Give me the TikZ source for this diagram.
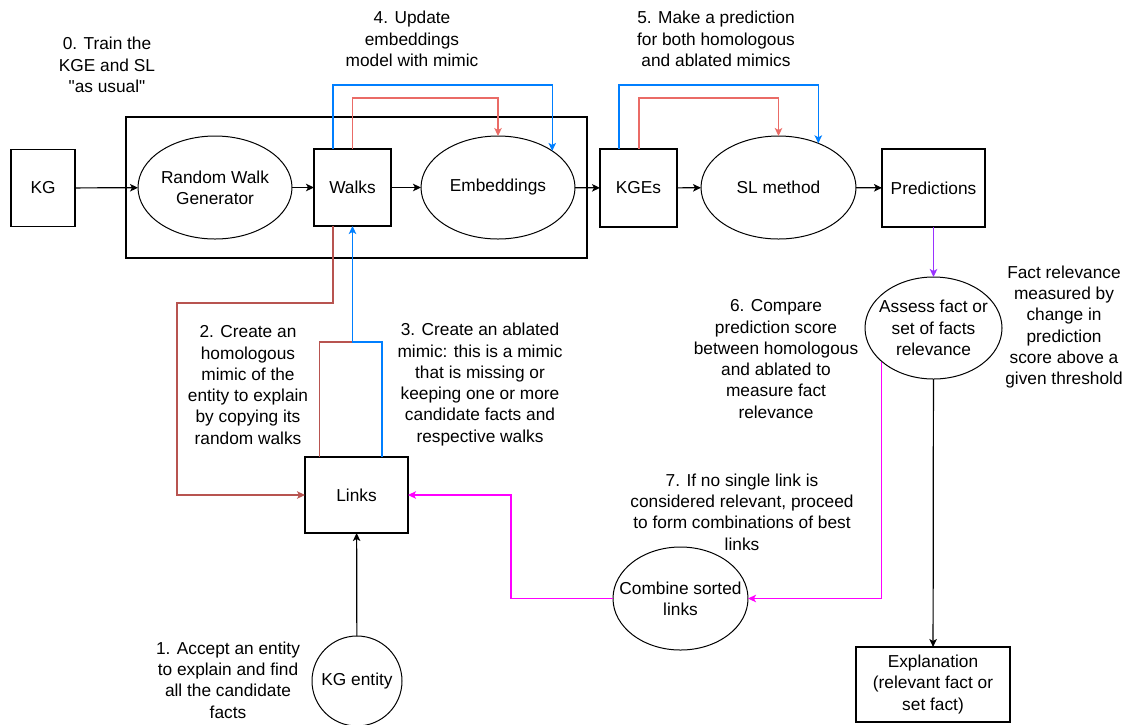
\documentclass[tikz,border=0pt]{standalone}
\usepackage{fontspec}
\setmainfont{Liberation Sans}[Ligatures=TeXOff]
\usetikzlibrary{arrows.meta,shapes.geometric,calc}

\definecolor{redarr}{HTML}{EA6B66}
\definecolor{brownarr}{HTML}{B85450}
\definecolor{bluearr}{HTML}{007FFF}
\definecolor{purplearr}{HTML}{9933FF}
\definecolor{magentaarr}{HTML}{FF00FF}

\newcommand{\diagfont}{\fontsize{17.3}{21.3}\selectfont}

\tikzset{
  every node/.style={font=\diagfont, text=black},
  box/.style={draw, line width=1.2pt, rectangle, inner sep=0pt, outer sep=0pt, align=center},
  oval/.style={draw, line width=1pt, ellipse, inner sep=0pt, outer sep=0pt, align=center},
  note/.style={align=center, inner sep=0pt},
  link/.style={line width=1.2pt, -{Stealth[length=8pt,width=7.5pt,inset=2pt]}},
  plain/.style={line width=1.2pt}
}

\begin{document}
\begin{tikzpicture}[x=1pt,y=-1pt]
\useasboundingbox (0,0) rectangle (1131,724);

% main pipeline
\node[box, minimum width=461pt, minimum height=141pt] (container) at (356.5,187.5) {};
\node[box, minimum width=64pt, minimum height=77pt] (kg) at (43,188) {KG};
\node[oval, minimum width=154pt, minimum height=103pt] (rwg) at (215,187.5) {Random Walk\\Generator};
\node[box, minimum width=77pt, minimum height=77pt] (walks) at (352.5,187.5) {Walks};
\node[oval, minimum width=154pt, minimum height=103pt] (emb) at (498,187.5) {Embeddings};
\node[box, minimum width=77pt, minimum height=78pt] (kges) at (638.5,188) {KGEs};
\node[oval, minimum width=155pt, minimum height=103pt] (sl) at (778.5,187.5) {SL method};
\node[box, minimum width=103pt, minimum height=78pt] (pred) at (933.5,188) {Predictions};

% explanation part (ellipse text may run over the outline)
\node[oval, minimum width=137pt, minimum height=102pt,
      label={[note]center:Assess fact or\\set of facts\\relevance}] (assess) at (933.5,328) {};
\node[box, minimum width=154pt, minimum height=75pt] (expl) at (933,684.5) {Explanation\\(relevant fact or\\set fact)};
\node[oval, minimum width=135pt, minimum height=103pt,
      label={[note]center:Combine sorted\\links}] (combine) at (680.5,598.5) {};
\node[box, minimum width=103pt, minimum height=76pt] (links) at (356.5,495) {Links};
\node[draw, line width=1pt, circle, minimum size=90pt, inner sep=0pt, outer sep=0pt] (entity) at (357,681) {KG entity};

% step labels
\node[note] (s0) at (107,65) {0. Train the\\KGE and SL\\"as usual"};
\node[note] (s4) at (412,39) {4. Update\\embeddings\\model with mimic};
\node[note] (s5) at (716,39) {5. Make a prediction\\for both homologous\\and ablated mimics};
\node[note] (s2) at (248,385) {2. Create an\\homologous\\mimic of the\\entity to explain\\by copying its\\random walks};
\node[note] (s3) at (480,384.5) {3. Create an ablated\\mimic: this is a mimic\\that is missing or\\keeping one or more\\candidate facts and\\respective walks};
\node[note] (s6) at (776,359) {6. Compare\\prediction score\\between homologous\\and ablated to\\measure fact\\relevance};
\node[note] (sr) at (1064,327) {Fact relevance\\measured by\\change in\\prediction\\score above a\\given threshold};
\node[note] (s7) at (742,512) {7. If no single link is\\considered relevant, proceed\\to form combinations of best\\links};
\node[note] (s1) at (228,680) {1. Accept an entity\\to explain and find\\all the candidate\\facts};

% pipeline connectors
\draw[link] (kg) -- (rwg);
\draw[link] (rwg) -- (walks);
\draw[link] (walks) -- (emb);
\draw[link] (emb) -- (kges);
\draw[link] (kges) -- (sl);
\draw[link] (sl) -- (pred);
\draw[link, purplearr] (pred) -- (assess);
\draw[link] (assess) -- (expl);
\draw[link] (entity) -- (links);

% mimic feedback loops
\draw[link, redarr] (walks.north) -- ++(0,-51) -| (emb.north);
\draw[link, bluearr] ([xshift=-19.5pt]walks.north) -- ++(0,-64) -| (emb.34);
\draw[link, redarr] ([xshift=0.5pt]kges.north) -- ++(0,-51) -| (sl.north);
\draw[link, bluearr] ([xshift=-19.5pt]kges.north) -- ++(0,-64) -| (sl.48);

% homologous / ablated mimic paths
\draw[link, brownarr] ([xshift=-19.5pt]walks.south) |- (177,303) |- (links.west);
\draw[plain, brownarr] ([xshift=-37pt]links.north) -- ++(0,-115) -- ++(33,0);
\draw[link, bluearr] ([xshift=25.5pt]links.north) -- ++(0,-115) -| (walks.south);

% combination loop
\draw[link, magentaarr] (assess.213) |- (combine.east);
\draw[link, magentaarr] (combine.west) -- ++(-102,0) |- (links.east);
\end{tikzpicture}
\end{document}
